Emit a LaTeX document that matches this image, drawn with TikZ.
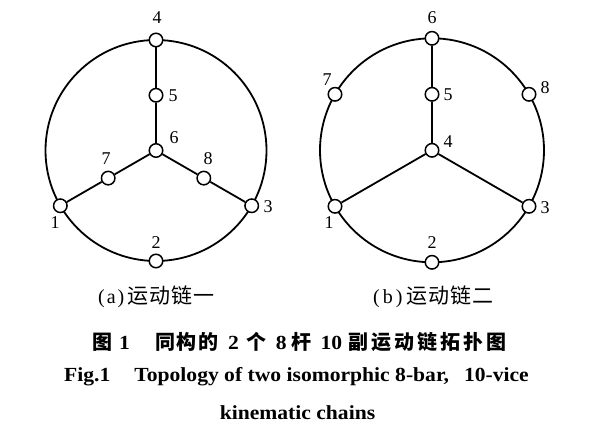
\documentclass[tikz,border=0pt]{standalone}
\usepackage{fontspec}
\usetikzlibrary{backgrounds}
\setmainfont{Liberation Serif}
\newfontfamily\cjk{Noto Sans CJK SC}
\newfontfamily\cjkb{Noto Sans CJK SC Bold}
\newfontfamily\tnrc[FakeStretch=1.08]{Liberation Serif}
\newcommand\ks{\kern3pt}
\newcommand\kt{\kern1.5pt}
\newcommand\ku{\kern1pt}
\begin{document}
\begin{tikzpicture}[x=1pt,y=-1pt,
  joint/.style={circle,draw,fill=white,line width=1.5pt,minimum size=13.5pt,inner sep=0pt},
  link/.style={line width=1.8pt},
  lbl/.style={font=\fontsize{18}{18}\selectfont,inner sep=0pt},
  sub/.style={font=\fontsize{20}{20}\selectfont,inner sep=0pt,anchor=west},
  capt/.style={inner sep=0pt,anchor=west}]
\useasboundingbox (0,0) rectangle (600,443);
% ---------- (a) ----------
\node[joint] (a4) at (156,40) {};
\node[joint] (a2) at (156,261) {};
\node[joint] (a1) at (60.3,205.75) {};
\node[joint] (a3) at (251.7,205.75) {};
\node[joint] (a6) at (156,150.5) {};
\node[joint] (a5) at (156,95.25) {};
\node[joint] (a7) at (108.2,178.1) {};
\node[joint] (a8) at (203.8,178.1) {};
\begin{scope}[on background layer]
\draw[link] (a4.center) arc[start angle=270,end angle=-90,radius=110.5];
\draw[link] (a4) -- (a5);
\draw[link] (a5) -- (a6);
\draw[link] (a6) -- (a7);
\draw[link] (a7) -- (a1);
\draw[link] (a6) -- (a8);
\draw[link] (a8) -- (a3);
\end{scope}
\node[lbl] (la4) at (157,18) {4};
\node[lbl] (la5) at (173,96) {5};
\node[lbl] (la6) at (174,138) {6};
\node[lbl] (la7) at (106,159) {7};
\node[lbl] (la8) at (208,159) {8};
\node[lbl] (la1) at (55,223) {1};
\node[lbl] (la3) at (268,207) {3};
\node[lbl] (la2) at (156,243) {2};
% ---------- (b) ----------
\node[joint] (b6) at (432,38.3) {};
\node[joint] (b2) at (432,262.3) {};
\node[joint] (b1) at (335,206.3) {};
\node[joint] (b3) at (529,206.3) {};
\node[joint] (b7) at (335,94.3) {};
\node[joint] (b8) at (529,94.3) {};
\node[joint] (b4) at (432,150.3) {};
\node[joint] (b5) at (432,94.3) {};
\begin{scope}[on background layer]
\draw[link] (b6.center) arc[start angle=270,end angle=-90,radius=112];
\draw[link] (b6) -- (b5);
\draw[link] (b5) -- (b4);
\draw[link] (b4) -- (b1);
\draw[link] (b4) -- (b3);
\end{scope}
\node[lbl] (lb6) at (432,18) {6};
\node[lbl] (lb7) at (327,80) {7};
\node[lbl] (lb5) at (448,95) {5};
\node[lbl] (lb8) at (545,88) {8};
\node[lbl] (lb4) at (448,142) {4};
\node[lbl] (lb1) at (329,223) {1};
\node[lbl] (lb3) at (545,208) {3};
\node[lbl] (lb2) at (432,243) {2};
% ---------- captions ----------
\node[sub] (sa) at (98,297) {(\kern2pt a\kern2pt)\kern3pt{\fontsize{21}{21}\cjk 运\ku 动\ku 链\ku 一}};
\node[sub] (sb) at (373,297) {(\kern3pt b\kern3pt)\kern4pt{\fontsize{21}{21}\cjk 运\ku 动\ku 链\ku 二}};
\node[capt,font=\fontsize{20}{20}\tnrc\bfseries] (t1) at (92,342)
  {{\cjkb 图}\hspace{7pt}1\hspace{25pt}{\cjkb 同\kt 构\kt 的}\hspace{10pt}2\hspace{8pt}{\cjkb 个}\hspace{9pt}8\hspace{5pt}{\cjkb 杆}\hspace{9pt}10\hspace{6pt}{\cjkb 副\ks 运\ks 动\ks 链\ks 拓\ks 扑\ks 图}};
\node[capt,font=\fontsize{20}{20}\tnrc\bfseries] (t2) at (64,377)
  {Fig.1\hspace{24pt}Topology of two isomorphic 8-bar,\hspace{15pt}10-vice};
\node[capt,anchor=center,font=\fontsize{20}{20}\tnrc\bfseries] (t3) at (297.5,413) {kinematic chains};
\end{tikzpicture}
\end{document}
